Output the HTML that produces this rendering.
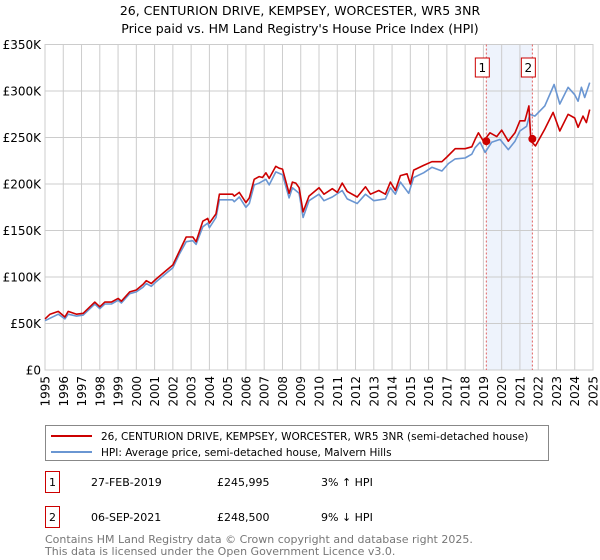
<!DOCTYPE html>
<html><head><meta charset="utf-8"><style>
body{margin:0;background:#fff;font-family:"Liberation Sans","DejaVu Sans",sans-serif;}
#w{position:relative;width:600px;height:560px;overflow:hidden}
svg text{font-family:"DejaVu Sans","Liberation Sans",sans-serif}
</style></head><body><div id="w">
<svg id="c" width="600" height="560"></svg>
</div>
<script>
const yearTicks=[1995,1996,1997,1998,1999,2000,2001,2002,2003,2004,2005,2006,2007,2008,2009,2010,2011,2012,2013,2014,2015,2016,2017,2018,2019,2020,2021,2022,2023,2024,2025];
const valueTicks=[0,50,100,150,200,250,300,350];
const valueLabels=["£0","£50K","£100K","£150K","£200K","£250K","£300K","£350K"];
const redA=[[135,55],[150,60],[175,63],[195,57],[205,63],[230,60],[250,61],[285,73],[300,68],[315,73],[335,73],[355,77],[365,74],[390,84],[410,86],[430,92],[440,96],[455,93],[470,98],[500,107],[520,113],[540,128],[560,143],[580,143],[590,138],[610,160],[625,163],[630,158],[650,168],[660,189],[700,189],[705,187],[720,191],[740,180],[750,185],[765,205],[780,208],[790,207],[800,212],[810,206],[830,219],[840,217],[850,216],[870,190],[880,202],[890,201],[900,196]];
const redB=[[12,170],[30,187],[60,196],[75,189],[100,195],[115,191],[130,201],[145,192],[175,186],[200,197],[215,189],[240,193],[260,189],[275,202],[290,193],[305,209],[325,211],[335,200],[345,215],[375,220],[400,224],[430,224],[445,229],[470,238],[500,238],[520,240],[530,248],[540,255],[555,246],[575,255],[595,251],[610,258],[630,246],[650,255],[665,268],[680,268],[692,284],[698,246],[712,241],[740,259],[765,277],[785,257],[810,275],[830,271],[840,261],[855,273],[865,266],[875,280]];
const blueA=[[135,53],[175,60],[195,55],[205,60],[230,58],[250,59],[285,71],[300,66],[315,71],[335,71],[355,75],[365,72],[390,82],[410,84],[430,89],[440,93],[455,90],[470,95],[500,104],[520,110],[540,125],[560,138],[580,139],[590,135],[610,154],[625,158],[630,153],[650,164],[660,183],[700,183],[705,181],[720,186],[740,175],[750,179],[765,199],[780,201],[800,205],[810,199],[830,213],[850,210],[870,185],[880,196],[900,190]];
const blueB=[[12,164],[30,182],[60,189],[75,182],[100,186],[130,193],[145,184],[175,179],[200,189],[225,182],[260,184],[275,196],[290,189],[305,202],[330,190],[345,207],[375,212],[400,218],[430,214],[450,222],[470,227],[500,228],[520,232],[530,239],[545,245],[560,234],[580,245],[605,248],[630,237],[650,246],[665,257],[685,262],[695,275],[710,273],[740,284],[768,307],[785,286],[810,304],[830,296],[840,289],[850,304],[860,293],[875,309]];
const sales=[[2019.16,245.995],[2021.68,248.5]];
const saleLabels=["1","2"];
const NS="http://www.w3.org/2000/svg";
const svg=document.getElementById('c');
const X0=45,X1=593,Y0=370,Y1=44.5;
const x=y=>X0+(y-1995)*(X1-X0)/30;
const yv=v=>Y0-v*(Y0-Y1)/350;
const ya=z=>1995+(z-135)/55, yb=z=>2009+(z-5)/55;
function mk(t,a,p){const e=document.createElementNS(NS,t);for(const k in a)e.setAttribute(k,a[k]);(p||svg).appendChild(e);return e;}
let e;
e=mk('text',{x:300,y:15,'text-anchor':'middle','font-size':12.5});e.textContent="26, CENTURION DRIVE, KEMPSEY, WORCESTER, WR5 3NR";


e=mk('text',{x:300,y:33,'text-anchor':'middle','font-size':12.5});e.textContent="Price paid vs. HM Land Registry's House Price Index (HPI)";


e=mk('rect',{x:x(sales[0][0]),y:Y1,width:x(sales[1][0])-x(sales[0][0]),height:Y0-Y1,fill:'#eef3fc'});


valueTicks.forEach((v,i)=>{
 e=mk('line',{x1:X0,x2:X1,y1:yv(v),y2:yv(v),stroke:'#ccc','stroke-width':1});
 
 
 e=mk('text',{x:X0-4,y:yv(v)+4.5,'text-anchor':'end','font-size':12});e.textContent=valueLabels[i];
 
 
});
yearTicks.forEach(t=>{
 e=mk('line',{x1:x(t),x2:x(t),y1:Y1,y2:Y0,stroke:'#ccc','stroke-width':1});
 
 
 e=mk('text',{x:0,y:0,'text-anchor':'end','font-size':12,transform:`translate(${x(t)+4.5},${Y0+6}) rotate(-90)`});e.textContent=t;
 
 
});
e=mk('rect',{x:X0,y:Y1,width:X1-X0,height:Y0-Y1,fill:'none',stroke:'#ccc'});


sales.forEach((s,i)=>{
 e=mk('line',{x1:x(s[0]),x2:x(s[0]),y1:Y1,y2:Y0,stroke:'#e06060','stroke-width':1,'stroke-dasharray':'2,2'});
 
 
});
function path(pts,col,name){
 const d=pts.map((p,i)=>(i?'L':'M')+x(p[0]).toFixed(1)+','+yv(p[1]).toFixed(1)).join('');
 e=mk('path',{d:d,fill:'none',stroke:col,'stroke-width':1.6,'stroke-linejoin':'round'});
 
 
}
const blue=blueA.map(p=>[ya(p[0]),p[1]]).concat(blueB.map(p=>[yb(p[0]),p[1]]));
const red=redA.map(p=>[ya(p[0]),p[1]]).concat(redB.map(p=>[yb(p[0]),p[1]]));
path(blue,'#6a96d2','hpi-line');
path(red,'#cc0000','price-paid-line');
sales.forEach((s,i)=>{
 e=mk('circle',{cx:x(s[0]),cy:yv(s[1]),r:4,fill:'#cc0000'});
 
 
 e=mk('rect',{x:x(s[0])-11,y:58,width:14,height:19,fill:'#fff',stroke:'#cc0000'});
 
 
 e=mk('text',{x:x(s[0])-4,y:72,'text-anchor':'middle','font-size':12});e.textContent=saleLabels[i];
 
 
});
e=mk('rect',{x:45.5,y:425.5,width:503,height:35,fill:'#fff',stroke:'#888'});


e=mk('line',{x1:51,x2:92,y1:436,y2:436,stroke:'#cc0000','stroke-width':2});


e=mk('text',{x:101,y:440,'font-size':10.5});e.textContent="26, CENTURION DRIVE, KEMPSEY, WORCESTER, WR5 3NR (semi-detached house)";


e=mk('line',{x1:51,x2:92,y1:452,y2:452,stroke:'#6a96d2','stroke-width':2});


e=mk('text',{x:101,y:456,'font-size':10.5});e.textContent="HPI: Average price, semi-detached house, Malvern Hills";


const rows=[["1","27-FEB-2019","£245,995","3% ↑ HPI"],["2","06-SEP-2021","£248,500","9% ↓ HPI"]];
rows.forEach((r,i)=>{
 const cy=482+i*35;
 e=mk('rect',{x:45.5,y:cy-10.5,width:14,height:21,fill:'#fff',stroke:'#cc0000'});
 
 
 e=mk('text',{x:52.5,y:cy+4,'text-anchor':'middle','font-size':11});e.textContent=r[0];
 
 
 [[91,r[1]],[217,r[2]],[321,r[3]]].forEach(c=>{
  e=mk('text',{x:c[0],y:cy+4,'font-size':11});e.textContent=c[1];
  
  
 });
});
e=mk('text',{x:45,y:543,'font-size':11,fill:'#777'});e.textContent="Contains HM Land Registry data © Crown copyright and database right 2025.";


e=mk('text',{x:45,y:555,'font-size':11,fill:'#777'});e.textContent="This data is licensed under the Open Government Licence v3.0.";


</script></body></html>
